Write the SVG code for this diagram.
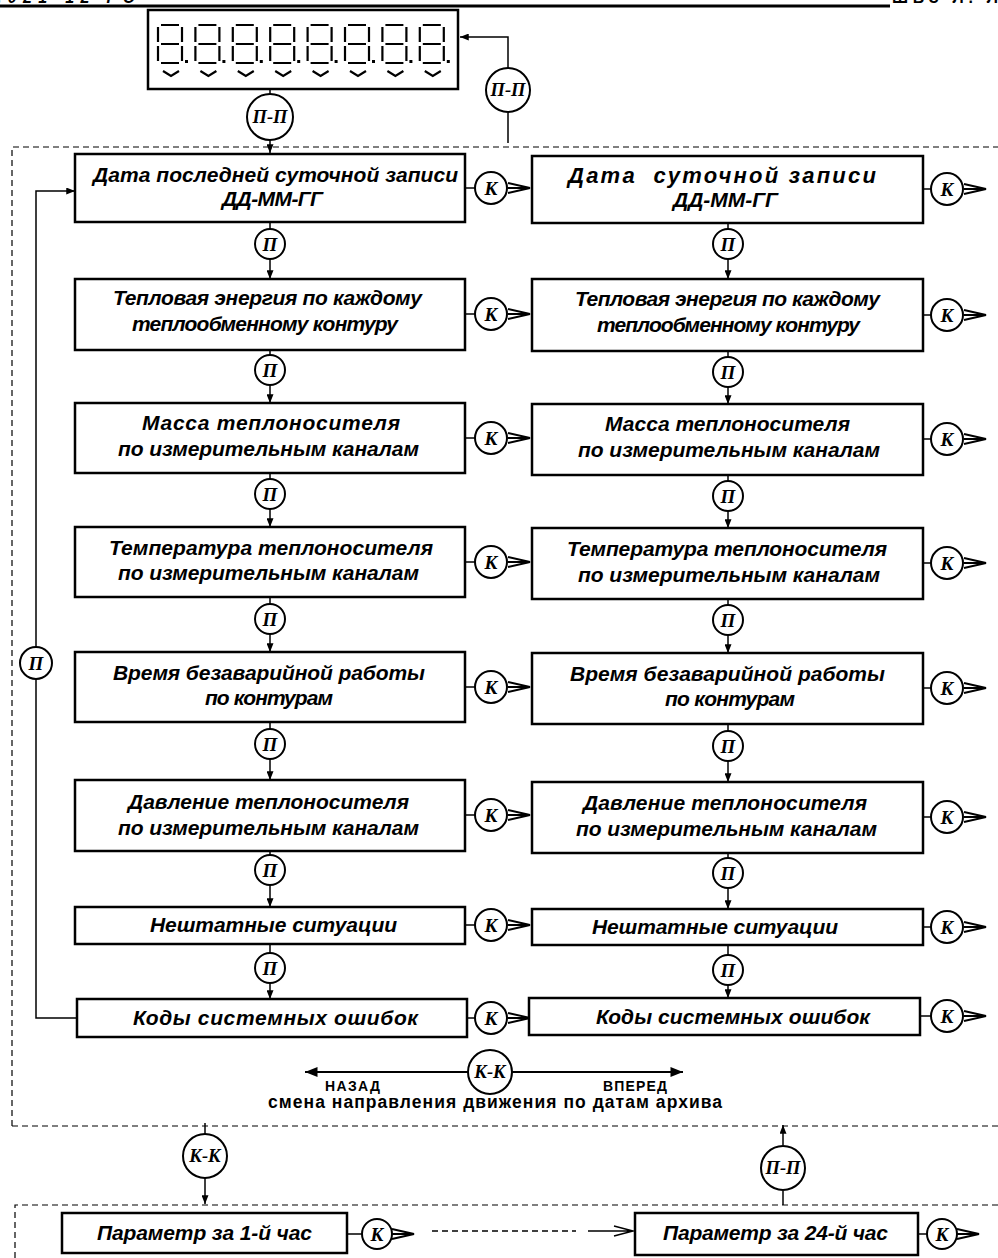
<svg xmlns="http://www.w3.org/2000/svg" xmlns:xlink="http://www.w3.org/1999/xlink" width="998" height="1258" viewBox="0 0 998 1258">
<style>
.box{fill:#fff;stroke:#000;stroke-width:2.5}
.c{fill:#fff;stroke:#000;stroke-width:2}
.t{font-family:"Liberation Sans",Arial,sans-serif;font-weight:bold;font-style:italic;font-size:21px;fill:#000}
.s{font-family:"Liberation Sans",Arial,sans-serif;font-weight:bold;fill:#000}
.ci{font-family:"Liberation Serif","Times New Roman",serif;font-weight:bold;font-style:italic;font-size:19px;fill:#000;text-anchor:middle}
.cl{font-size:18.5px}
.ln{fill:none;stroke:#000;stroke-width:1.5}
.lt{fill:none;stroke:#000;stroke-width:2}
.da{fill:none;stroke:#000;stroke-width:1.2;stroke-dasharray:6 4}
.seg{fill:none;stroke:#000;stroke-width:2.2}
</style>
<defs>
<marker id="ah" viewBox="0 0 10 8" refX="10" refY="4" markerWidth="9" markerHeight="7" markerUnits="userSpaceOnUse" orient="auto"><path d="M0,0 L10,4 L0,8 z" fill="#000"/></marker>
<marker id="ahb" viewBox="0 0 10 8" refX="10" refY="4" markerWidth="13" markerHeight="10" markerUnits="userSpaceOnUse" orient="auto"><path d="M0,0 L10,4 L0,8 z" fill="#000"/></marker>
<g id="dig">
<path class="seg" d="M3,0H21M3,19H21M3,38H21M0,2V17M0,21V36M24,2V17M24,21V36M5,46L13,51L21,46"/>
<rect x="27" y="35" width="3" height="3" fill="#000"/>
</g>
<path id="kar" d="M0,0H20M0,-5L22,0L0,5" fill="none" stroke="#000" stroke-width="1.8"/>
</defs>

<g id="header">
<line x1="0" y1="6" x2="890" y2="6" stroke="#000" stroke-width="3"/>
<text class="s" x="-3" y="3" font-size="16" font-style="italic" textLength="138" lengthAdjust="spacing">.021-12 РЭ</text>
<text class="s" x="892" y="3" font-size="16" textLength="106" lengthAdjust="spacing">ШВЗ Л. Л</text>
</g>

<g id="display">
<rect x="148" y="10" width="310" height="79" fill="#fff" stroke="#000" stroke-width="2.5"/>
<use xlink:href="#dig" x="158" y="25"/>
<use xlink:href="#dig" x="195.4" y="25"/>
<use xlink:href="#dig" x="232.8" y="25"/>
<use xlink:href="#dig" x="270.2" y="25"/>
<use xlink:href="#dig" x="307.6" y="25"/>
<use xlink:href="#dig" x="345" y="25"/>
<use xlink:href="#dig" x="382.4" y="25"/>
<use xlink:href="#dig" x="419.8" y="25"/>
</g>

<g id="frames">
<path class="da" d="M12,1126V147H998"/>
<path class="da" d="M12,1126H998"/>
<path class="da" d="M15,1258V1205H998"/>
</g>

<g id="connectors">
<path class="ln" d="M270,89V95"/>
<path class="ln" d="M270,140V153" marker-end="url(#ah)"/>
<path class="ln" d="M508,143V113M508,68V37H460" marker-end="url(#ah)"/>
<path class="ln" d="M270,222V229"/><path class="ln" d="M270,259V279" marker-end="url(#ah)"/>
<path class="ln" d="M270,350V355"/><path class="ln" d="M270,385V403" marker-end="url(#ah)"/>
<path class="ln" d="M270,473V479"/><path class="ln" d="M270,509V527" marker-end="url(#ah)"/>
<path class="ln" d="M270,597V604"/><path class="ln" d="M270,634V652" marker-end="url(#ah)"/>
<path class="ln" d="M270,722V729"/><path class="ln" d="M270,759V780" marker-end="url(#ah)"/>
<path class="ln" d="M270,851V855"/><path class="ln" d="M270,885V907" marker-end="url(#ah)"/>
<path class="ln" d="M270,944V953"/><path class="ln" d="M270,983V999" marker-end="url(#ah)"/>
<path class="ln" d="M728,223V229"/><path class="ln" d="M728,259V279" marker-end="url(#ah)"/>
<path class="ln" d="M728,351V357"/><path class="ln" d="M728,387V404" marker-end="url(#ah)"/>
<path class="ln" d="M728,475V481"/><path class="ln" d="M728,511V528" marker-end="url(#ah)"/>
<path class="ln" d="M728,599V605"/><path class="ln" d="M728,635V653" marker-end="url(#ah)"/>
<path class="ln" d="M728,724V731"/><path class="ln" d="M728,761V782" marker-end="url(#ah)"/>
<path class="ln" d="M728,853V858"/><path class="ln" d="M728,888V909" marker-end="url(#ah)"/>
<path class="ln" d="M728,945V955"/><path class="ln" d="M728,985V998" marker-end="url(#ah)"/>
<path class="ln" d="M77,1018H36V679"/>
<path class="ln" d="M36,647V191H75" marker-end="url(#ah)"/>
<path class="ln" d="M465,188H475M465,314H475M465,438H475M465,562H475M465,687H475M465,815H475M465,925H475M467,1018H475"/>
<use xlink:href="#kar" x="508" y="188"/><use xlink:href="#kar" x="508" y="314"/><use xlink:href="#kar" x="508" y="438"/><use xlink:href="#kar" x="508" y="562"/>
<use xlink:href="#kar" x="508" y="687"/><use xlink:href="#kar" x="508" y="815"/><use xlink:href="#kar" x="508" y="925"/><use xlink:href="#kar" x="508" y="1018"/>
<path class="ln" d="M923,189H931M923,315H931M923,439H931M923,563H931M923,688H931M923,817H931M923,927H931M920,1016H931"/>
<use xlink:href="#kar" x="964" y="189"/><use xlink:href="#kar" x="964" y="315"/><use xlink:href="#kar" x="964" y="439"/><use xlink:href="#kar" x="964" y="563"/>
<use xlink:href="#kar" x="964" y="688"/><use xlink:href="#kar" x="964" y="817"/><use xlink:href="#kar" x="964" y="927"/><use xlink:href="#kar" x="964" y="1016"/>
<path class="lt" d="M468,1072H305" marker-end="url(#ahb)"/>
<path class="lt" d="M512,1072H683" marker-end="url(#ahb)"/>
<path class="ln" d="M205,1123V1134"/><path class="ln" d="M205,1178V1204" marker-end="url(#ah)"/>
<path class="ln" d="M783,1205V1191"/><path class="ln" d="M783,1145V1125" marker-end="url(#ah)"/>
<path class="ln" d="M347,1234H362M918,1234H927"/>
<use xlink:href="#kar" x="392" y="1234"/>
<use xlink:href="#kar" x="957" y="1234"/>
<path class="ln" d="M432,1231H576" stroke-dasharray="6 4"/>
<path class="ln" d="M588,1231H632M614,1226L633,1231L614,1236"/>
</g>

<g id="cPP1"><circle class="c" cx="270" cy="117" r="23"/><text class="ci cl" x="270" y="123">П-П</text></g>
<g id="cPP2"><circle class="c" cx="508" cy="90" r="22"/><text class="ci cl" x="508" y="96">П-П</text></g>

<g id="L1"><rect class="box" x="75" y="154" width="390" height="68"/><text class="t" x="93" y="182" textLength="365" lengthAdjust="spacing">Дата последней суточной записи</text><text class="t" x="222" y="206" textLength="101" lengthAdjust="spacing">ДД-ММ-ГГ</text></g>
<g id="L2"><rect class="box" x="75" y="279" width="390" height="71"/><text class="t" x="113" y="305" textLength="309" lengthAdjust="spacing">Тепловая энергия по каждому</text><text class="t" x="132" y="331" textLength="266" lengthAdjust="spacing">теплообменному контуру</text></g>
<g id="L3"><rect class="box" x="75" y="403" width="390" height="70"/><text class="t" x="142" y="430" textLength="258" lengthAdjust="spacing">Масса теплоносителя</text><text class="t" x="118" y="456" textLength="301" lengthAdjust="spacing">по измерительным каналам</text></g>
<g id="L4"><rect class="box" x="75" y="527" width="390" height="70"/><text class="t" x="109" y="555" textLength="324" lengthAdjust="spacing">Температура теплоносителя</text><text class="t" x="118" y="580" textLength="301" lengthAdjust="spacing">по измерительным каналам</text></g>
<g id="L5"><rect class="box" x="75" y="652" width="390" height="70"/><text class="t" x="113" y="680" textLength="312" lengthAdjust="spacing">Время безаварийной работы</text><text class="t" x="205" y="705" textLength="128" lengthAdjust="spacing">по контурам</text></g>
<g id="L6"><rect class="box" x="75" y="780" width="390" height="71"/><text class="t" x="128" y="809" textLength="281" lengthAdjust="spacing">Давление теплоносителя</text><text class="t" x="118" y="835" textLength="301" lengthAdjust="spacing">по измерительным каналам</text></g>
<g id="L7"><rect class="box" x="75" y="907" width="390" height="37"/><text class="t" x="150" y="932" textLength="247" lengthAdjust="spacing">Нештатные ситуации</text></g>
<g id="L8"><rect class="box" x="77" y="999" width="390" height="38"/><text class="t" x="133" y="1025" textLength="285" lengthAdjust="spacing">Коды системных ошибок</text></g>

<g id="R1"><rect class="box" x="532" y="156" width="391" height="67"/><text class="t" x="568" y="183" style="font-size:22px" textLength="308" lengthAdjust="spacing" xml:space="preserve">Дата  суточной записи</text><text class="t" x="673" y="207" textLength="105" lengthAdjust="spacing">ДД-ММ-ГГ</text></g>
<g id="R2"><rect class="box" x="532" y="279" width="391" height="72"/><text class="t" x="575" y="306" textLength="305" lengthAdjust="spacing">Тепловая энергия по каждому</text><text class="t" x="597" y="332" textLength="263" lengthAdjust="spacing">теплообменному контуру</text></g>
<g id="R3"><rect class="box" x="532" y="404" width="391" height="71"/><text class="t" x="605" y="431" textLength="245" lengthAdjust="spacing">Масса теплоносителя</text><text class="t" x="578" y="457" textLength="302" lengthAdjust="spacing">по измерительным каналам</text></g>
<g id="R4"><rect class="box" x="532" y="528" width="391" height="71"/><text class="t" x="567" y="556" textLength="320" lengthAdjust="spacing">Температура теплоносителя</text><text class="t" x="578" y="582" textLength="302" lengthAdjust="spacing">по измерительным каналам</text></g>
<g id="R5"><rect class="box" x="532" y="653" width="391" height="71"/><text class="t" x="570" y="681" textLength="315" lengthAdjust="spacing">Время безаварийной работы</text><text class="t" x="665" y="706" textLength="130" lengthAdjust="spacing">по контурам</text></g>
<g id="R6"><rect class="box" x="532" y="782" width="391" height="71"/><text class="t" x="583" y="810" textLength="284" lengthAdjust="spacing">Давление теплоносителя</text><text class="t" x="576" y="836" textLength="301" lengthAdjust="spacing">по измерительным каналам</text></g>
<g id="R7"><rect class="box" x="532" y="909" width="391" height="36"/><text class="t" x="592" y="934" textLength="246" lengthAdjust="spacing">Нештатные ситуации</text></g>
<g id="R8"><rect class="box" x="529" y="998" width="391" height="37"/><text class="t" x="596" y="1024" textLength="274" lengthAdjust="spacing">Коды системных ошибок</text></g>

<g id="pLeft">
<circle class="c" cx="270" cy="244" r="15"/><text class="ci" x="270" y="251">П</text>
<circle class="c" cx="270" cy="370" r="15"/><text class="ci" x="270" y="377">П</text>
<circle class="c" cx="270" cy="494" r="15"/><text class="ci" x="270" y="501">П</text>
<circle class="c" cx="270" cy="619" r="15"/><text class="ci" x="270" y="626">П</text>
<circle class="c" cx="270" cy="744" r="15"/><text class="ci" x="270" y="751">П</text>
<circle class="c" cx="270" cy="870" r="15"/><text class="ci" x="270" y="877">П</text>
<circle class="c" cx="270" cy="968" r="15"/><text class="ci" x="270" y="975">П</text>
</g>
<g id="pRight">
<circle class="c" cx="728" cy="244" r="15"/><text class="ci" x="728" y="251">П</text>
<circle class="c" cx="728" cy="372" r="15"/><text class="ci" x="728" y="379">П</text>
<circle class="c" cx="728" cy="496" r="15"/><text class="ci" x="728" y="503">П</text>
<circle class="c" cx="728" cy="620" r="15"/><text class="ci" x="728" y="627">П</text>
<circle class="c" cx="728" cy="746" r="15"/><text class="ci" x="728" y="753">П</text>
<circle class="c" cx="728" cy="873" r="15"/><text class="ci" x="728" y="880">П</text>
<circle class="c" cx="728" cy="970" r="15"/><text class="ci" x="728" y="977">П</text>
</g>
<g id="pLoop"><circle class="c" cx="36" cy="663" r="16"/><text class="ci" x="36" y="670">П</text></g>

<g id="kMid">
<circle class="c" cx="491" cy="188" r="16"/><text class="ci" x="491" y="195">К</text>
<circle class="c" cx="491" cy="314" r="16"/><text class="ci" x="491" y="321">К</text>
<circle class="c" cx="491" cy="438" r="16"/><text class="ci" x="491" y="445">К</text>
<circle class="c" cx="491" cy="562" r="16"/><text class="ci" x="491" y="569">К</text>
<circle class="c" cx="491" cy="687" r="16"/><text class="ci" x="491" y="694">К</text>
<circle class="c" cx="491" cy="815" r="16"/><text class="ci" x="491" y="822">К</text>
<circle class="c" cx="491" cy="925" r="16"/><text class="ci" x="491" y="932">К</text>
<circle class="c" cx="491" cy="1018" r="16"/><text class="ci" x="491" y="1025">К</text>
</g>
<g id="kRight">
<circle class="c" cx="947" cy="189" r="16"/><text class="ci" x="947" y="196">К</text>
<circle class="c" cx="947" cy="315" r="16"/><text class="ci" x="947" y="322">К</text>
<circle class="c" cx="947" cy="439" r="16"/><text class="ci" x="947" y="446">К</text>
<circle class="c" cx="947" cy="563" r="16"/><text class="ci" x="947" y="570">К</text>
<circle class="c" cx="947" cy="688" r="16"/><text class="ci" x="947" y="695">К</text>
<circle class="c" cx="947" cy="817" r="16"/><text class="ci" x="947" y="824">К</text>
<circle class="c" cx="947" cy="927" r="16"/><text class="ci" x="947" y="934">К</text>
<circle class="c" cx="947" cy="1016" r="16"/><text class="ci" x="947" y="1023">К</text>
</g>

<g id="direction">
<circle class="c" cx="490" cy="1072" r="22"/><text class="ci cl" x="490" y="1078">К-К</text>
<text class="s" x="325" y="1091" font-size="14" textLength="55" lengthAdjust="spacing">НАЗАД</text>
<text class="s" x="603" y="1091" font-size="14" textLength="64" lengthAdjust="spacing">ВПЕРЕД</text>
<text class="s" x="268" y="1108" font-size="17.5" textLength="454" lengthAdjust="spacing">смена направления движения по датам архива</text>
</g>

<g id="cKK"><circle class="c" cx="205" cy="1156" r="22"/><text class="ci cl" x="205" y="1162">К-К</text></g>
<g id="cPP3"><circle class="c" cx="783" cy="1168" r="22"/><text class="ci cl" x="783" y="1174">П-П</text></g>

<g id="H1"><rect class="box" x="62" y="1213" width="285" height="40"/><text class="t" x="97" y="1240" textLength="215" lengthAdjust="spacing">Параметр за 1-й час</text></g>
<g id="kH1"><circle class="c" cx="377" cy="1234" r="15"/><text class="ci" x="377" y="1241">К</text></g>
<g id="H24"><rect class="box" x="635" y="1213" width="283" height="42"/><text class="t" x="663" y="1240" textLength="225" lengthAdjust="spacing">Параметр за 24-й час</text></g>
<g id="kH24"><circle class="c" cx="942" cy="1234" r="15"/><text class="ci" x="942" y="1241">К</text></g>
</svg>
